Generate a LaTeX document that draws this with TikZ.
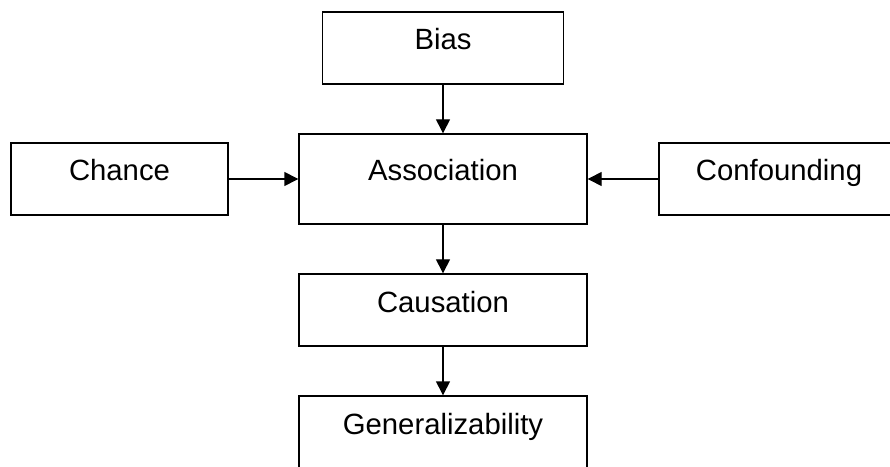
\documentclass[tikz,border=0pt]{standalone}
\usepackage{fontspec}
\setmainfont{Liberation Sans}
\usetikzlibrary{arrows.meta}
\begin{document}
\begin{tikzpicture}[x=1pt,y=1pt,
  box/.style={draw=black, line width=1.4pt, fill=white, minimum height=72pt,
    inner sep=0pt, text height=22pt, text depth=18pt,
    font=\fontsize{29.3}{35}\selectfont},
  arr/.style={line width=1.4pt, -{Triangle[length=14pt,width=14pt]}}]
\useasboundingbox (0,0) rectangle (890,466);
\clip (0,0) rectangle (890,466);
\fill[white] (0,0) rectangle (890,466);
\node[box, minimum width=241pt] (bias) at (443,418) {Bias};
\node[box, minimum width=288pt, minimum height=90pt] (assoc) at (443,287) {Association};
\node[box, minimum width=217pt] (chance) at (119.5,287) {Chance};
\node[box, minimum width=240pt] (conf) at (779,287) {Confounding};
\node[box, minimum width=288pt] (caus) at (443,156) {Causation};
\node[box, minimum width=288pt] (gen) at (443,34) {Generalizability};
\draw[arr] (bias) -- (assoc);
\draw[arr] (chance) -- (assoc);
\draw[arr] (conf) -- (assoc);
\draw[arr] (assoc) -- (caus);
\draw[arr] (caus) -- (gen);
\end{tikzpicture}
\end{document}
